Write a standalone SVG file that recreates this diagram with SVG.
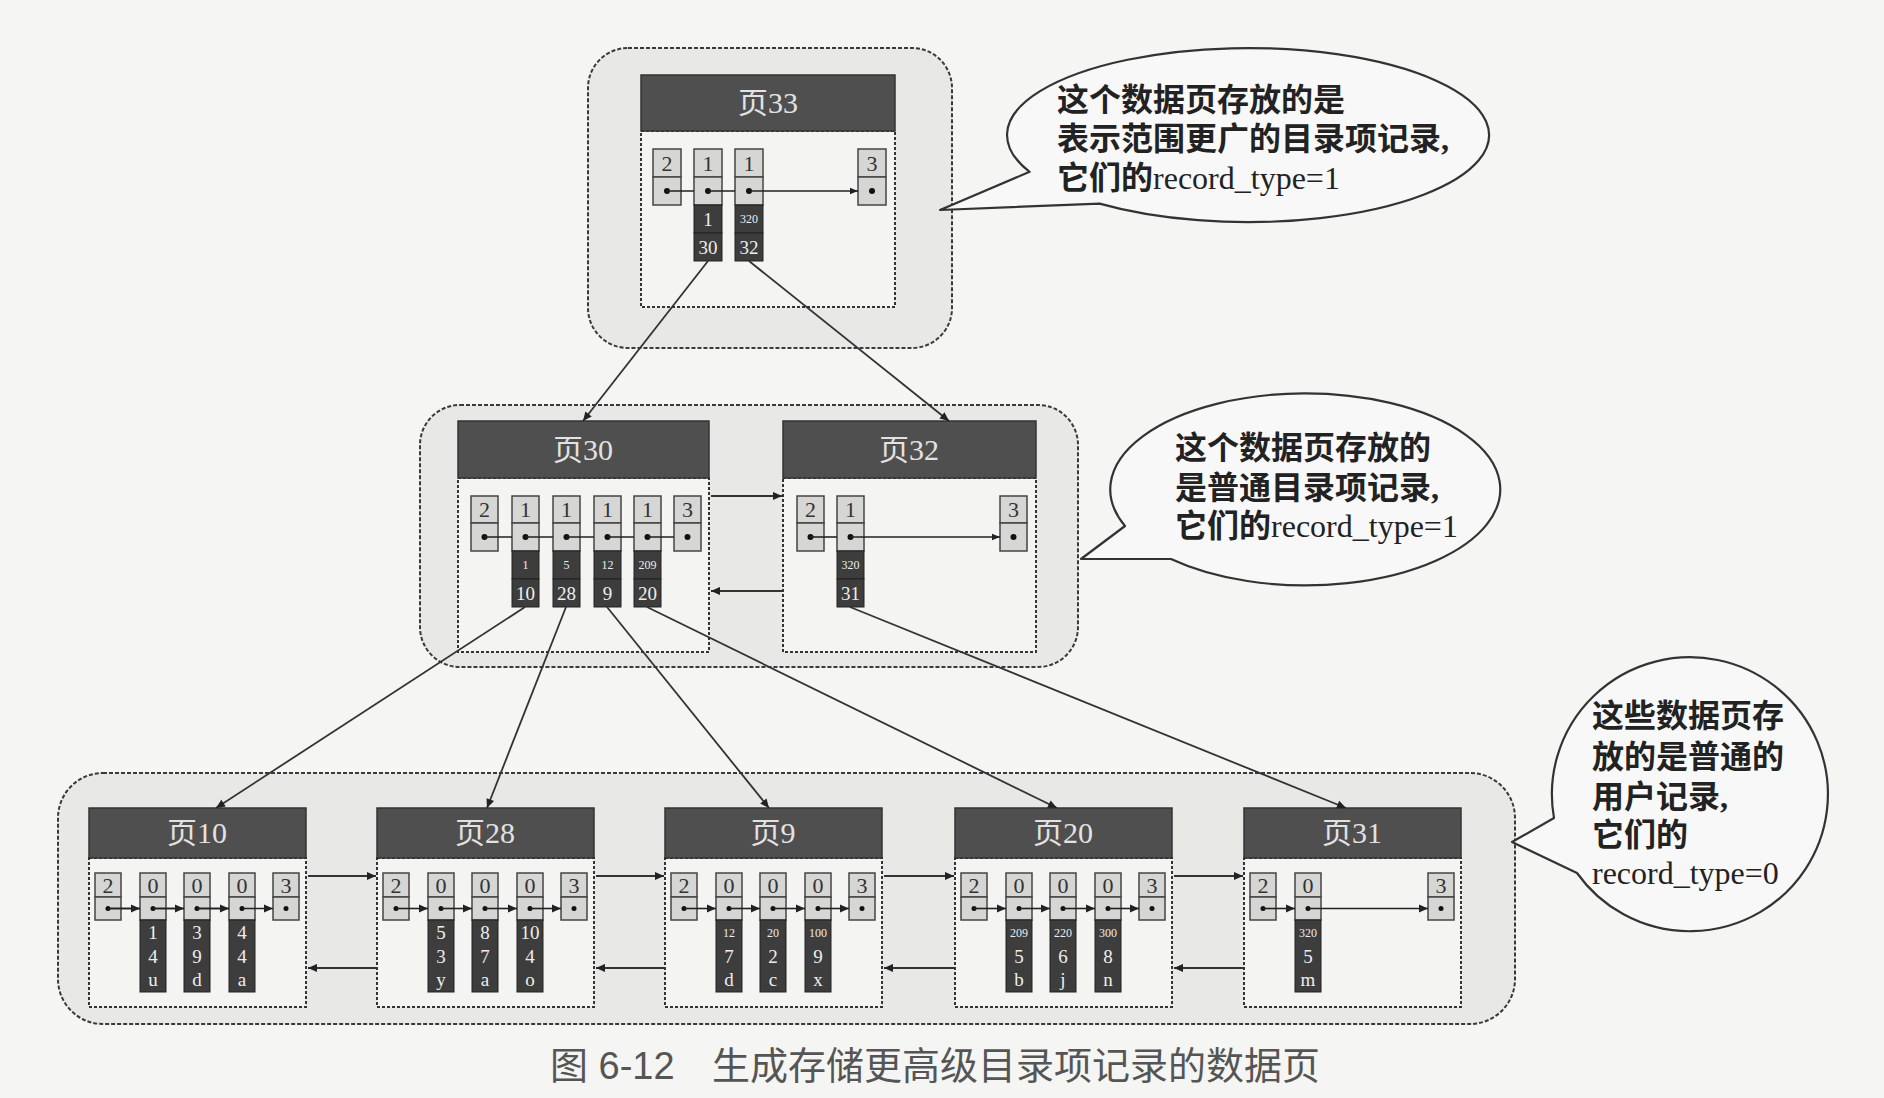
<svg xmlns="http://www.w3.org/2000/svg" width="1884" height="1098" viewBox="0 0 1884 1098">
<style>
.outer{fill:#e8e8e6;stroke:#3a3a3a;stroke-width:2;stroke-dasharray:4 2}
.body{fill:#f4f4f2;stroke:#333;stroke-width:2;stroke-dasharray:3 2}
.hdr{fill:#4f4f4f;stroke:#333;stroke-width:1.5}
.htxt{font-family:"Liberation Serif","Noto Sans CJK SC",serif;font-size:30px;fill:#e2e2e2;text-anchor:middle}
.cell{fill:#d6d6d4;stroke:#444;stroke-width:1.5}
.dark{fill:#3d3d3d;stroke:#222;stroke-width:1}
.ctxt{font-family:"Liberation Serif",serif;font-size:22px;fill:#333;text-anchor:middle}
.dtxt{font-family:"Liberation Serif",serif;font-size:19px;fill:#eee;text-anchor:middle}
.sm{font-size:12px}
.dot{fill:#111}
.chain{stroke:#222;stroke-width:1.6;fill:none}
.link{stroke:#333;stroke-width:1.8;fill:none}
.bubble{fill:#f8f8f8;stroke:#333;stroke-width:2.2;stroke-linejoin:round}
.btxt{font-family:"Liberation Serif","Noto Sans CJK SC",serif;font-size:32px;font-weight:bold;fill:#222}
.lat{font-weight:normal}
.cap{font-family:"Liberation Sans","Noto Sans CJK SC",sans-serif;font-size:38px;fill:#555}
</style>
<defs>
<marker id="ah" viewBox="0 0 10 10" refX="10" refY="5" markerWidth="14" markerHeight="9" markerUnits="userSpaceOnUse" orient="auto"><path d="M0,0.5 L10,5 L0,9.5 z" fill="#222"/></marker>
<marker id="ahs" viewBox="0 0 10 10" refX="10" refY="5" markerWidth="12" markerHeight="8" markerUnits="userSpaceOnUse" orient="auto"><path d="M0,1 L10,5 L0,9 z" fill="#222"/></marker>
</defs>
<rect x="0" y="0" width="1884" height="1098" fill="#f5f5f3"/>

<!-- containers -->
<g id="level2-box"><rect class="outer" x="588" y="48" width="364" height="300" rx="40"/></g>
<g id="level1-box"><rect class="outer" x="420" y="405" width="658" height="262" rx="40"/></g>
<g id="level0-box"><rect class="outer" x="58" y="773" width="1457" height="251" rx="45"/></g>

<!-- page 33 -->
<g id="page33">
<rect class="body" x="641" y="131" width="254" height="176"/>
<rect class="hdr" x="641" y="75" width="254" height="56"/>
<text class="htxt" x="768" y="113">页33</text>
<rect class="cell" x="653" y="149" width="28" height="28"/><rect class="cell" x="653" y="177" width="28" height="28"/><text class="ctxt" x="667" y="171">2</text><circle class="dot" cx="667" cy="191" r="3"/>
<rect class="cell" x="694" y="149" width="28" height="28"/><rect class="cell" x="694" y="177" width="28" height="28"/><text class="ctxt" x="708" y="171">1</text><circle class="dot" cx="708" cy="191" r="3"/>
<rect class="dark" x="694" y="205" width="28" height="28"/><rect class="dark" x="694" y="233" width="28" height="28"/><text class="dtxt" x="708" y="226">1</text><text class="dtxt" x="708" y="254">30</text>
<rect class="cell" x="735" y="149" width="28" height="28"/><rect class="cell" x="735" y="177" width="28" height="28"/><text class="ctxt" x="749" y="171">1</text><circle class="dot" cx="749" cy="191" r="3"/>
<rect class="dark" x="735" y="205" width="28" height="28"/><rect class="dark" x="735" y="233" width="28" height="28"/><text class="dtxt sm" x="749" y="223">320</text><text class="dtxt" x="749" y="254">32</text>
<rect class="cell" x="858" y="149" width="28" height="28"/><rect class="cell" x="858" y="177" width="28" height="28"/><text class="ctxt" x="872" y="171">3</text><circle class="dot" cx="872" cy="191" r="3"/>
<path class="chain" d="M667,191 H694 M708,191 H735"/>
<path class="chain" d="M749,191 H858" marker-end="url(#ahs)"/>
</g>

<!-- page 30 -->
<g id="page30">
<rect class="body" x="458" y="478" width="251" height="174"/>
<rect class="hdr" x="458" y="421" width="251" height="57"/>
<text class="htxt" x="583" y="460">页30</text>
<rect class="cell" x="471" y="496" width="27" height="27"/><rect class="cell" x="471" y="523" width="27" height="28"/><text class="ctxt" x="484.5" y="517">2</text><circle class="dot" cx="484.5" cy="537" r="3"/>
<rect class="cell" x="512" y="496" width="27" height="27"/><rect class="cell" x="512" y="523" width="27" height="28"/><text class="ctxt" x="525.5" y="517">1</text><circle class="dot" cx="525.5" cy="537" r="3"/>
<rect class="dark" x="512" y="551" width="27" height="28"/><rect class="dark" x="512" y="579" width="27" height="28"/><text class="dtxt sm" x="525.5" y="569">1</text><text class="dtxt" x="525.5" y="600">10</text>
<rect class="cell" x="553" y="496" width="27" height="27"/><rect class="cell" x="553" y="523" width="27" height="28"/><text class="ctxt" x="566.5" y="517">1</text><circle class="dot" cx="566.5" cy="537" r="3"/>
<rect class="dark" x="553" y="551" width="27" height="28"/><rect class="dark" x="553" y="579" width="27" height="28"/><text class="dtxt sm" x="566.5" y="569">5</text><text class="dtxt" x="566.5" y="600">28</text>
<rect class="cell" x="594" y="496" width="27" height="27"/><rect class="cell" x="594" y="523" width="27" height="28"/><text class="ctxt" x="607.5" y="517">1</text><circle class="dot" cx="607.5" cy="537" r="3"/>
<rect class="dark" x="594" y="551" width="27" height="28"/><rect class="dark" x="594" y="579" width="27" height="28"/><text class="dtxt sm" x="607.5" y="569">12</text><text class="dtxt" x="607.5" y="600">9</text>
<rect class="cell" x="634" y="496" width="27" height="27"/><rect class="cell" x="634" y="523" width="27" height="28"/><text class="ctxt" x="647.5" y="517">1</text><circle class="dot" cx="647.5" cy="537" r="3"/>
<rect class="dark" x="634" y="551" width="27" height="28"/><rect class="dark" x="634" y="579" width="27" height="28"/><text class="dtxt sm" x="647.5" y="569">209</text><text class="dtxt" x="647.5" y="600">20</text>
<rect class="cell" x="674" y="496" width="27" height="27"/><rect class="cell" x="674" y="523" width="27" height="28"/><text class="ctxt" x="687.5" y="517">3</text><circle class="dot" cx="687.5" cy="537" r="3"/>
<path class="chain" d="M484.5,537 H512 M525.5,537 H553 M566.5,537 H594 M607.5,537 H634 M647.5,537 H674"/>
</g>

<!-- page 32 -->
<g id="page32">
<rect class="body" x="783" y="478" width="253" height="174"/>
<rect class="hdr" x="783" y="421" width="253" height="57"/>
<text class="htxt" x="909" y="460">页32</text>
<rect class="cell" x="797" y="496" width="27" height="27"/><rect class="cell" x="797" y="523" width="27" height="28"/><text class="ctxt" x="810.5" y="517">2</text><circle class="dot" cx="810.5" cy="537" r="3"/>
<rect class="cell" x="837" y="496" width="27" height="27"/><rect class="cell" x="837" y="523" width="27" height="28"/><text class="ctxt" x="850.5" y="517">1</text><circle class="dot" cx="850.5" cy="537" r="3"/>
<rect class="dark" x="837" y="551" width="27" height="28"/><rect class="dark" x="837" y="579" width="27" height="28"/><text class="dtxt sm" x="850.5" y="569">320</text><text class="dtxt" x="850.5" y="600">31</text>
<rect class="cell" x="1000" y="496" width="27" height="27"/><rect class="cell" x="1000" y="523" width="27" height="28"/><text class="ctxt" x="1013.5" y="517">3</text><circle class="dot" cx="1013.5" cy="537" r="3"/>
<path class="chain" d="M810.5,537 H837"/>
<path class="chain" d="M850.5,537 H1000" marker-end="url(#ahs)"/>
</g>

<!-- page 10 -->
<g id="page10">
<rect class="body" x="89" y="858" width="217" height="149"/>
<rect class="hdr" x="89" y="808" width="217" height="50"/>
<text class="htxt" x="197" y="843">页10</text>
<rect class="cell" x="95" y="873" width="26" height="24"/><rect class="cell" x="95" y="897" width="26" height="23"/><text class="ctxt" x="108" y="893">2</text><circle class="dot" cx="108" cy="908.5" r="2.5"/>
<rect class="cell" x="140" y="873" width="26" height="24"/><rect class="cell" x="140" y="897" width="26" height="23"/><text class="ctxt" x="153" y="893">0</text><circle class="dot" cx="153" cy="908.5" r="2.5"/>
<rect class="dark" x="140" y="920" width="26" height="72"/><text class="dtxt" x="153" y="939">1</text><text class="dtxt" x="153" y="963">4</text><text class="dtxt" x="153" y="986">u</text>
<rect class="cell" x="184" y="873" width="26" height="24"/><rect class="cell" x="184" y="897" width="26" height="23"/><text class="ctxt" x="197" y="893">0</text><circle class="dot" cx="197" cy="908.5" r="2.5"/>
<rect class="dark" x="184" y="920" width="26" height="72"/><text class="dtxt" x="197" y="939">3</text><text class="dtxt" x="197" y="963">9</text><text class="dtxt" x="197" y="986">d</text>
<rect class="cell" x="229" y="873" width="26" height="24"/><rect class="cell" x="229" y="897" width="26" height="23"/><text class="ctxt" x="242" y="893">0</text><circle class="dot" cx="242" cy="908.5" r="2.5"/>
<rect class="dark" x="229" y="920" width="26" height="72"/><text class="dtxt" x="242" y="939">4</text><text class="dtxt" x="242" y="963">4</text><text class="dtxt" x="242" y="986">a</text>
<rect class="cell" x="273" y="873" width="26" height="24"/><rect class="cell" x="273" y="897" width="26" height="23"/><text class="ctxt" x="286" y="893">3</text><circle class="dot" cx="286" cy="908.5" r="2.5"/>
<path class="chain" d="M108,908.5 H140 M153,908.5 H184 M197,908.5 H229 M242,908.5 H273" marker-end="url(#ah)"/>
<path class="chain" d="M108,908.5 H140" marker-end="url(#ah)"/><path class="chain" d="M153,908.5 H184" marker-end="url(#ah)"/><path class="chain" d="M197,908.5 H229" marker-end="url(#ah)"/>
</g>

<!-- page 28 -->
<g id="page28">
<rect class="body" x="377" y="858" width="217" height="149"/>
<rect class="hdr" x="377" y="808" width="217" height="50"/>
<text class="htxt" x="485" y="843">页28</text>
<rect class="cell" x="383" y="873" width="26" height="24"/><rect class="cell" x="383" y="897" width="26" height="23"/><text class="ctxt" x="396" y="893">2</text><circle class="dot" cx="396" cy="908.5" r="2.5"/>
<rect class="cell" x="428" y="873" width="26" height="24"/><rect class="cell" x="428" y="897" width="26" height="23"/><text class="ctxt" x="441" y="893">0</text><circle class="dot" cx="441" cy="908.5" r="2.5"/>
<rect class="dark" x="428" y="920" width="26" height="72"/><text class="dtxt" x="441" y="939">5</text><text class="dtxt" x="441" y="963">3</text><text class="dtxt" x="441" y="986">y</text>
<rect class="cell" x="472" y="873" width="26" height="24"/><rect class="cell" x="472" y="897" width="26" height="23"/><text class="ctxt" x="485" y="893">0</text><circle class="dot" cx="485" cy="908.5" r="2.5"/>
<rect class="dark" x="472" y="920" width="26" height="72"/><text class="dtxt" x="485" y="939">8</text><text class="dtxt" x="485" y="963">7</text><text class="dtxt" x="485" y="986">a</text>
<rect class="cell" x="517" y="873" width="26" height="24"/><rect class="cell" x="517" y="897" width="26" height="23"/><text class="ctxt" x="530" y="893">0</text><circle class="dot" cx="530" cy="908.5" r="2.5"/>
<rect class="dark" x="517" y="920" width="26" height="72"/><text class="dtxt" x="530" y="939">10</text><text class="dtxt" x="530" y="963">4</text><text class="dtxt" x="530" y="986">o</text>
<rect class="cell" x="561" y="873" width="26" height="24"/><rect class="cell" x="561" y="897" width="26" height="23"/><text class="ctxt" x="574" y="893">3</text><circle class="dot" cx="574" cy="908.5" r="2.5"/>
<path class="chain" d="M396,908.5 H428" marker-end="url(#ah)"/><path class="chain" d="M441,908.5 H472" marker-end="url(#ah)"/><path class="chain" d="M485,908.5 H517" marker-end="url(#ah)"/><path class="chain" d="M530,908.5 H561" marker-end="url(#ah)"/>
</g>

<!-- page 9 -->
<g id="page9">
<rect class="body" x="665" y="858" width="217" height="149"/>
<rect class="hdr" x="665" y="808" width="217" height="50"/>
<text class="htxt" x="773" y="843">页9</text>
<rect class="cell" x="671" y="873" width="26" height="24"/><rect class="cell" x="671" y="897" width="26" height="23"/><text class="ctxt" x="684" y="893">2</text><circle class="dot" cx="684" cy="908.5" r="2.5"/>
<rect class="cell" x="716" y="873" width="26" height="24"/><rect class="cell" x="716" y="897" width="26" height="23"/><text class="ctxt" x="729" y="893">0</text><circle class="dot" cx="729" cy="908.5" r="2.5"/>
<rect class="dark" x="716" y="920" width="26" height="72"/><text class="dtxt sm" x="729" y="937">12</text><text class="dtxt" x="729" y="963">7</text><text class="dtxt" x="729" y="986">d</text>
<rect class="cell" x="760" y="873" width="26" height="24"/><rect class="cell" x="760" y="897" width="26" height="23"/><text class="ctxt" x="773" y="893">0</text><circle class="dot" cx="773" cy="908.5" r="2.5"/>
<rect class="dark" x="760" y="920" width="26" height="72"/><text class="dtxt sm" x="773" y="937">20</text><text class="dtxt" x="773" y="963">2</text><text class="dtxt" x="773" y="986">c</text>
<rect class="cell" x="805" y="873" width="26" height="24"/><rect class="cell" x="805" y="897" width="26" height="23"/><text class="ctxt" x="818" y="893">0</text><circle class="dot" cx="818" cy="908.5" r="2.5"/>
<rect class="dark" x="805" y="920" width="26" height="72"/><text class="dtxt sm" x="818" y="937">100</text><text class="dtxt" x="818" y="963">9</text><text class="dtxt" x="818" y="986">x</text>
<rect class="cell" x="849" y="873" width="26" height="24"/><rect class="cell" x="849" y="897" width="26" height="23"/><text class="ctxt" x="862" y="893">3</text><circle class="dot" cx="862" cy="908.5" r="2.5"/>
<path class="chain" d="M684,908.5 H716" marker-end="url(#ah)"/><path class="chain" d="M729,908.5 H760" marker-end="url(#ah)"/><path class="chain" d="M773,908.5 H805" marker-end="url(#ah)"/><path class="chain" d="M818,908.5 H849" marker-end="url(#ah)"/>
</g>

<!-- page 20 -->
<g id="page20">
<rect class="body" x="955" y="858" width="217" height="149"/>
<rect class="hdr" x="955" y="808" width="217" height="50"/>
<text class="htxt" x="1063" y="843">页20</text>
<rect class="cell" x="961" y="873" width="26" height="24"/><rect class="cell" x="961" y="897" width="26" height="23"/><text class="ctxt" x="974" y="893">2</text><circle class="dot" cx="974" cy="908.5" r="2.5"/>
<rect class="cell" x="1006" y="873" width="26" height="24"/><rect class="cell" x="1006" y="897" width="26" height="23"/><text class="ctxt" x="1019" y="893">0</text><circle class="dot" cx="1019" cy="908.5" r="2.5"/>
<rect class="dark" x="1006" y="920" width="26" height="72"/><text class="dtxt sm" x="1019" y="937">209</text><text class="dtxt" x="1019" y="963">5</text><text class="dtxt" x="1019" y="986">b</text>
<rect class="cell" x="1050" y="873" width="26" height="24"/><rect class="cell" x="1050" y="897" width="26" height="23"/><text class="ctxt" x="1063" y="893">0</text><circle class="dot" cx="1063" cy="908.5" r="2.5"/>
<rect class="dark" x="1050" y="920" width="26" height="72"/><text class="dtxt sm" x="1063" y="937">220</text><text class="dtxt" x="1063" y="963">6</text><text class="dtxt" x="1063" y="986">j</text>
<rect class="cell" x="1095" y="873" width="26" height="24"/><rect class="cell" x="1095" y="897" width="26" height="23"/><text class="ctxt" x="1108" y="893">0</text><circle class="dot" cx="1108" cy="908.5" r="2.5"/>
<rect class="dark" x="1095" y="920" width="26" height="72"/><text class="dtxt sm" x="1108" y="937">300</text><text class="dtxt" x="1108" y="963">8</text><text class="dtxt" x="1108" y="986">n</text>
<rect class="cell" x="1139" y="873" width="26" height="24"/><rect class="cell" x="1139" y="897" width="26" height="23"/><text class="ctxt" x="1152" y="893">3</text><circle class="dot" cx="1152" cy="908.5" r="2.5"/>
<path class="chain" d="M974,908.5 H1006" marker-end="url(#ah)"/><path class="chain" d="M1019,908.5 H1050" marker-end="url(#ah)"/><path class="chain" d="M1063,908.5 H1095" marker-end="url(#ah)"/><path class="chain" d="M1108,908.5 H1139" marker-end="url(#ah)"/>
</g>

<!-- page 31 -->
<g id="page31">
<rect class="body" x="1244" y="858" width="217" height="149"/>
<rect class="hdr" x="1244" y="808" width="217" height="50"/>
<text class="htxt" x="1352" y="843">页31</text>
<rect class="cell" x="1250" y="873" width="26" height="24"/><rect class="cell" x="1250" y="897" width="26" height="23"/><text class="ctxt" x="1263" y="893">2</text><circle class="dot" cx="1263" cy="908.5" r="2.5"/>
<rect class="cell" x="1295" y="873" width="26" height="24"/><rect class="cell" x="1295" y="897" width="26" height="23"/><text class="ctxt" x="1308" y="893">0</text><circle class="dot" cx="1308" cy="908.5" r="2.5"/>
<rect class="dark" x="1295" y="920" width="26" height="72"/><text class="dtxt sm" x="1308" y="937">320</text><text class="dtxt" x="1308" y="963">5</text><text class="dtxt" x="1308" y="986">m</text>
<rect class="cell" x="1428" y="873" width="26" height="24"/><rect class="cell" x="1428" y="897" width="26" height="23"/><text class="ctxt" x="1441" y="893">3</text><circle class="dot" cx="1441" cy="908.5" r="2.5"/>
<path class="chain" d="M1263,908.5 H1295" marker-end="url(#ah)"/><path class="chain" d="M1308,908.5 H1428" marker-end="url(#ah)"/>
</g>

<!-- callouts -->
<g id="note-top">
<path class="bubble" d="M1029.6,171.8 A241,87 0 1 1 1099.6,203.6 L940,210 Z"/>
<text class="btxt" x="1057" y="111">这个数据页存放的是</text>
<text class="btxt" x="1057" y="150">表示范围更广的目录项记录,</text>
<text class="btxt" x="1057" y="189">它们的<tspan class="lat">record_type=1</tspan></text>
</g>
<g id="note-mid">
<path class="bubble" d="M1125,526 A195,96 0 1 1 1171,559 L1081,559 Z"/>
<text class="btxt" x="1175" y="459">这个数据页存放的</text>
<text class="btxt" x="1175" y="499">是普通目录项记录,</text>
<text class="btxt" x="1175" y="537">它们的<tspan class="lat">record_type=1</tspan></text>
</g>
<g id="note-bottom">
<path class="bubble" d="M1554,818 A138,137 0 1 1 1577,873 L1512,842 Z"/>
<text class="btxt" x="1592" y="727">这些数据页存</text>
<text class="btxt" x="1592" y="768">放的是普通的</text>
<text class="btxt" x="1592" y="808">用户记录,</text>
<text class="btxt" x="1592" y="846">它们的</text>
<text class="btxt lat" x="1592" y="884">record_type=0</text>
</g>

<!-- connectors -->
<g id="connectors">
<path class="link" d="M708,261 L583,421" marker-end="url(#ah)"/>
<path class="link" d="M749,261 L949,421" marker-end="url(#ah)"/>
<path class="link" d="M711,496 H782" marker-end="url(#ah)"/>
<path class="link" d="M783,591 H711" marker-end="url(#ah)"/>
<path class="link" d="M525,607 L216,808" marker-end="url(#ah)"/>
<path class="link" d="M566,607 L487,808" marker-end="url(#ah)"/>
<path class="link" d="M607,607 L769,808" marker-end="url(#ah)"/>
<path class="link" d="M647,607 L1057,808" marker-end="url(#ah)"/>
<path class="link" d="M850,607 L1346,808" marker-end="url(#ah)"/>
<path class="link" d="M308,876 H376" marker-end="url(#ah)"/>
<path class="link" d="M596,876 H664" marker-end="url(#ah)"/>
<path class="link" d="M884,876 H954" marker-end="url(#ah)"/>
<path class="link" d="M1174,876 H1243" marker-end="url(#ah)"/>
<path class="link" d="M376,968 H308" marker-end="url(#ah)"/>
<path class="link" d="M664,968 H596" marker-end="url(#ah)"/>
<path class="link" d="M954,968 H884" marker-end="url(#ah)"/>
<path class="link" d="M1243,968 H1174" marker-end="url(#ah)"/>
</g>

<text class="cap" x="550" y="1079">图 6-12</text>
<text class="cap" x="712" y="1079">生成存储更高级目录项记录的数据页</text>
</svg>
